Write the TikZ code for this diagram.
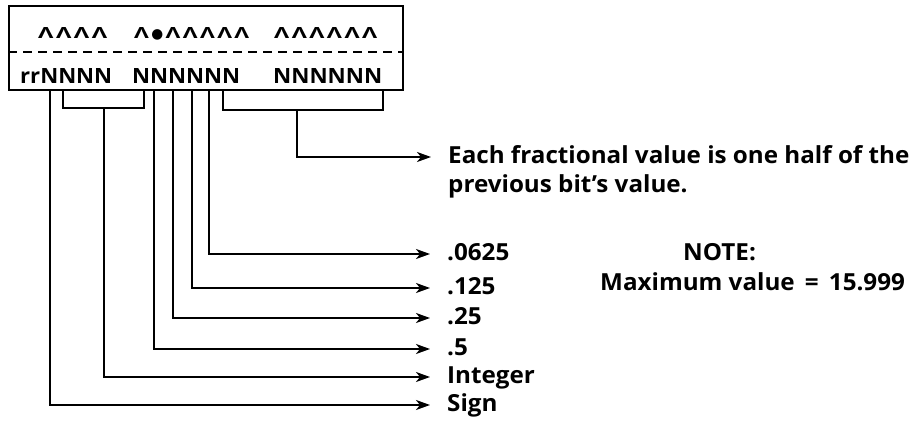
\documentclass[tikz,border=0pt]{standalone}
\usepackage{fontspec}
\setmainfont{Open Sans}[FakeStretch=1.03]
\newfontfamily\capfont{Open Sans}
\newfontfamily\symfont{DejaVu Sans}
\usetikzlibrary{arrows.meta}
\newcommand\caretglyph{\scalebox{1.5}[1]{Λ}}
\newcommand\cgap{\kern1.6pt}
\begin{document}
\begin{tikzpicture}[x=1pt,y=-1pt,
  wire/.style={line width=1.8pt},
  arr/.style={wire,-{Stealth[length=14pt,width=10pt,inset=4pt]},shorten >=17pt},
  lbl/.style={anchor=west,inner sep=0pt,text height=17pt,text depth=5pt,font=\fontsize{23.5}{29}\selectfont\bfseries},
  row/.style={anchor=base west,inner sep=0pt},
  caps/.style={row,font=\capfont\fontsize{10}{12}\selectfont\bfseries}]
\useasboundingbox (0,0) rectangle (918,423);
% register box
\node[draw,wire,minimum width=394pt,minimum height=84pt,inner sep=0pt] (box) at (206,48) {};
\draw[wire,dash pattern=on 9pt off 6pt] (box.west |- 0,52) -- (box.east |- 0,52);
% caret row
\node[caps] (c1) at (38,38) {\resizebox{69pt}{11pt}{%
  \caretglyph\cgap\caretglyph\cgap\caretglyph\cgap\caretglyph}};
\node[caps] (c2) at (134,38) {\resizebox{115pt}{11pt}{%
  \caretglyph\cgap{\symfont\fontsize{9}{10}\selectfont ●}\cgap\caretglyph\cgap\caretglyph\cgap\caretglyph\cgap\caretglyph\cgap\caretglyph}};
\node[caps] (c3) at (274,38) {\resizebox{103pt}{11pt}{%
  \caretglyph\cgap\caretglyph\cgap\caretglyph\cgap\caretglyph\cgap\caretglyph\cgap\caretglyph}};
% bit row
\node[row] (n1) at (20,83) {\resizebox{92pt}{15pt}{\bfseries rrNNNN}};
\node[row] (n2) at (132,83) {\resizebox{108pt}{15pt}{\bfseries NNNNNN}};
\node[row] (n3) at (273,83) {\resizebox{109pt}{15pt}{\bfseries NNNNNN}};
% labels
\node[lbl] (frac1) at (448,157) {Each fractional value is one half of the};
\node[lbl,anchor=base west] (frac2) at ([yshift=-29pt]frac1.base west) {previous bit’s value.};
\node[lbl] (l0625) at (447,254) {.0625};
\node[lbl] (l125) at (447,288) {.125};
\node[lbl] (l25) at (447,318) {.25};
\node[lbl] (l5) at (447,349) {.5};
\node[lbl] (lint) at (447,377) {Integer};
\node[lbl] (lsign) at (447,405) {Sign};
\node[lbl,anchor=base west] (note) at (683,260) {NOTE:};
\node[lbl,anchor=base west] (max) at (600,290) {Maximum value \,=\, 15.999};
% taps on the box bottom
\coordinate (tsign) at (50,90);
\coordinate (ti1) at (63,90);
\coordinate (ti2) at (144,90);
\coordinate (t5) at (154,90);
\coordinate (t25) at (173,90);
\coordinate (t125) at (192,90);
\coordinate (t0625) at (209,90);
\coordinate (tf1) at (223,90);
\coordinate (tf2) at (383,90);
\coordinate (bi) at (104,108);
\coordinate (bf) at (297,110);
% brackets
\draw[wire] (ti1) |- (bi) -| (ti2);
\draw[wire] (tf1) |- (bf) -| (tf2);
% connectors
\draw[arr] (bf) |- (frac1.west);
\draw[arr] (t0625) |- (l0625.west);
\draw[arr] (t125) |- (l125.west);
\draw[arr] (t25) |- (l25.west);
\draw[arr] (t5) |- (l5.west);
\draw[arr] (bi) |- (lint.west);
\draw[arr] (tsign) |- (lsign.west);
\end{tikzpicture}
\end{document}
